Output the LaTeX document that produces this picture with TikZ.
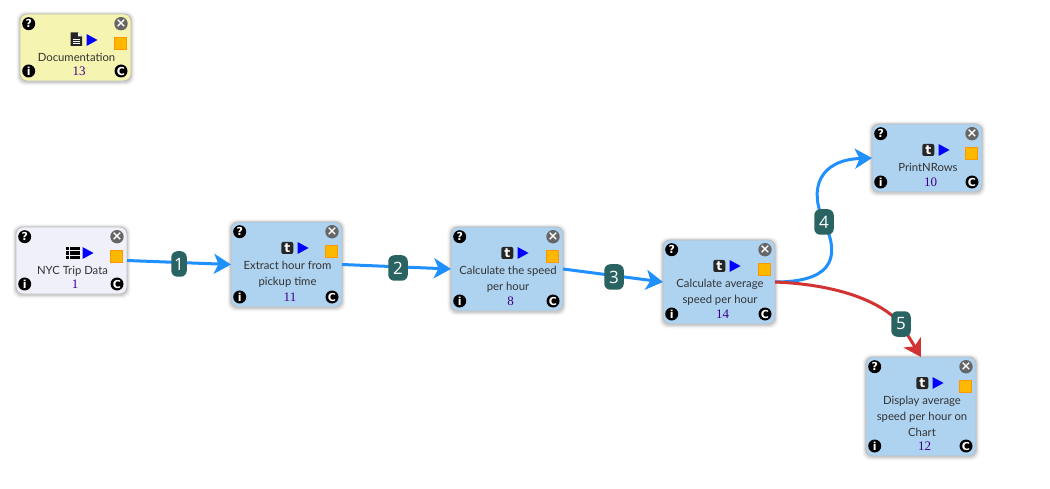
\documentclass[tikz,border=0pt]{standalone}
\usepackage{fontspec}
\setmainfont{Lato}
\newfontfamily\badgefont{Open Sans}
\newfontfamily\numfont{Liberation Serif}
\newfontfamily\iconfont{DejaVu Sans}
\usetikzlibrary{arrows.meta}
\definecolor{boxblue}{HTML}{AED3F0}
\definecolor{boxyellow}{HTML}{F5F4B0}
\definecolor{boxpale}{HTML}{F0F0FA}
\definecolor{flowblue}{HTML}{2090FF}
\definecolor{flowred}{HTML}{D33232}
\definecolor{badgeteal}{HTML}{2A6462}
\definecolor{orangesq}{HTML}{FFB800}
\definecolor{numpurple}{HTML}{40008A}
\definecolor{labelgray}{HTML}{333333}
\tikzset{
  x=1pt,y=-1pt,
  boxnode/.style={rectangle,rounded corners=7pt,draw=black!25,line width=.9pt,anchor=north west,inner sep=0pt,outer sep=0pt},
  cornericon/.style={circle,fill=black,text=white,minimum size=13pt,inner sep=0pt,font=\iconfont\bfseries\fontsize{11}{11}\selectfont},
  orangebox/.style={rectangle,fill=orangesq,draw=orange!70!red!35!orangesq,line width=.7pt,minimum size=11.5pt,inner sep=0pt},
  boxlabel/.style={anchor=north,inner sep=0pt,align=center,text=labelgray,font=\fontsize{11.3}{16}\selectfont},
  boxnum/.style={inner sep=0pt,text=numpurple,font=\numfont\fontsize{13}{13}\selectfont},
  playicon/.style={fill=blue},
  ticon/.style={rectangle,rounded corners=2pt,fill=black!85,text=white,minimum size=12pt,inner sep=0pt,font=\iconfont\bfseries\fontsize{12.5}{12.5}\selectfont},
  badge/.style={rectangle,rounded corners=6pt,fill=badgeteal,text=white,minimum height=25.5pt,minimum width=19.5pt,inner xsep=2pt,inner ysep=0pt,font=\badgefont\fontsize{17}{17}\selectfont},
  flowline/.style={line width=3pt,draw=flowblue,-{Stealth[length=17pt,width=20pt,inset=4.5pt]}},
  flowplain/.style={line width=3pt,draw=flowblue},
  redline/.style={line width=3pt,draw=flowred,-{Stealth[length=17pt,width=20pt,inset=4.5pt]}},
  redplain/.style={line width=3pt,draw=flowred},
}
% name, x, y, w, h, fill, icon, label, number
\newcommand{\flowbox}[9]{%
\begin{scope}[shift={(#2,#3)}]
  \foreach \g/\o in {3.5/.04,2.4/.06,1.3/.09}{
    \fill[black,opacity=\o,rounded corners=8pt] (-\g,-\g+.8) rectangle (#4+\g,#5+\g+.8);
  }
  \node[boxnode,fill=#6,minimum width=#4pt,minimum height=#5pt] (#1) at (0,0) {};
  \node[cornericon] (#1-q) at (8.7,9.7) {?};
  \node[cornericon,fill=black!60,font=\iconfont\bfseries\fontsize{13}{13}\selectfont] (#1-x) at (#4-10,9.7) {×};
  \node[cornericon] (#1-i) at (8.7,#5-10) {i};
  \node[cornericon] (#1-c) at (#4-10,#5-10) {C};
  \node[orangebox] (#1-o) at (#4-10.5,29.3) {};
  #7
  \fill[playicon] (66.5,20) -- (77.5,26) -- (66.5,32) -- cycle;
  \node[boxlabel] (#1-l) at (#4/2+1,36) {\strut #8};
  \node[boxnum] (#1-n) at (#4/2+3.5,#5-9.5) {#9};
\end{scope}}
\newcommand{\ticonmark}[1]{\node[ticon] (#1-t) at (56.3,26) {t};}
\newcommand{\fileicon}{%
  \fill[black!85] (50.5,18.5) -- (58,18.5) -- (62,22.5) -- (62,32) -- (50.5,32) -- cycle;
  \fill[white] (58,18.5) -- (62,22.5) -- (58,22.5) -- cycle;
  \draw[white,line width=.9pt] (53,25) -- (59.5,25) (53,27.3) -- (59.5,27.3) (53,29.6) -- (59.5,29.6);}
\newcommand{\listicon}{%
  \foreach \yy in {20,24.5,29}{
    \fill[black] (49.5,\yy) rectangle (53,\yy+3.4);
    \fill[black] (54.2,\yy) rectangle (63.5,\yy+3.4);
  }}
\begin{document}
\begin{tikzpicture}
\path[use as bounding box,fill=white] (0,0) rectangle (1050,489);
\flowbox{doc}{20}{14}{111}{67}{boxyellow}{\fileicon}{Documentation}{13}
\flowbox{nyc}{16}{227}{111}{67}{boxpale}{\listicon}{NYC Trip Data}{1}
\flowbox{ext}{231}{222}{111}{85}{boxblue}{\ticonmark{ext}}{Extract hour from\\pickup time}{11}
\flowbox{spd}{451}{227}{112}{84}{boxblue}{\ticonmark{spd}}{Calculate the speed\\per hour}{8}
\flowbox{avg}{663}{240}{112}{84}{boxblue}{\ticonmark{avg}}{Calculate average\\speed per hour}{14}
\flowbox{prn}{872}{124}{110}{68}{boxblue}{\ticonmark{prn}}{PrintNRows}{10}
\flowbox{dsp}{866}{357}{110}{99}{boxblue}{\ticonmark{dsp}}{Display average\\speed per hour on\\Chart}{12}
% connectors
\draw[flowline] (nyc.east) -- (ext.west);
\draw[flowline] (ext.east) -- (spd.west);
\draw[flowline] (spd.east) -- (avg.west);
\coordinate (b4pos) at (824,222);
\coordinate (b5pos) at (901,324);
\draw[flowplain] (avg.east) .. controls +(52,0) and +(19,40) .. (b4pos);
\draw[flowline] (b4pos) .. controls +(-16,-34) and +(-52,2) .. (prn.west);
\draw[redplain] (avg.east) .. controls +(50,2) and +(-25,-28) .. (b5pos);
\draw[redline] (b5pos) -- (dsp.north);
% badges
\node[badge,minimum width=15.5pt] (b1) at (179,264) {1};
\node[badge] (b2) at (398,268) {2};
\node[badge] (b3) at (614,277) {3};
\node[badge] (b4) at (b4pos) {4};
\node[badge] (b5) at (b5pos) {5};
\end{tikzpicture}
\end{document}
